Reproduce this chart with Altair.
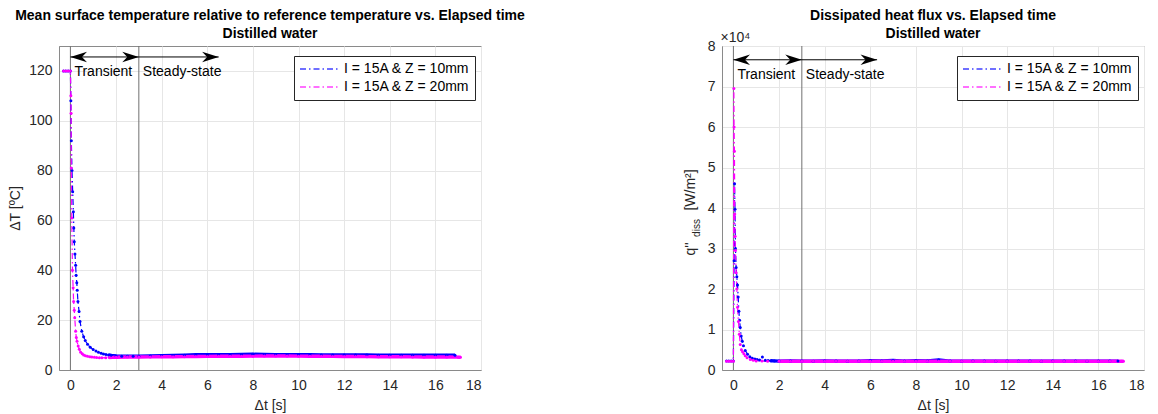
import altair as alt
import pandas as pd

SERIES = ["I = 15A & Z = 10mm", "I = 15A & Z = 20mm"]
COLORS = ["#0000ff", "#ff00ff"]

TITLE_T = ["Mean surface temperature relative to reference temperature vs. Elapsed time", "Distilled water"]
TITLE_Q = ["Dissipated heat flux vs. Elapsed time", "Distilled water"]

# --- Delta T, Z = 10 mm
t_T10 = [-0.3, -0.2, -0.1, 0.0,
         0.02, 0.04, 0.07, 0.10, 0.13, 0.15, 0.17, 0.20, 0.23, 0.25,
         0.28, 0.30, 0.33, 0.38, 0.42, 0.50, 0.58, 0.65, 0.75, 0.87,
         1.00, 1.12, 1.23, 1.35, 1.45, 1.56, 1.67, 1.8,
         2.0, 2.25, 2.5, 2.75, 3.0,
         3.5, 4.0, 4.5, 5.0, 5.5, 6.0, 6.5, 7.0, 7.5, 8.0, 8.5, 9.0, 9.5, 10.0,
         10.5, 11.0, 11.5, 12.0, 12.5, 13.0, 13.5, 14.0, 14.5, 15.0, 15.5, 16.0, 16.5,
         16.86]
dT_10 = [120, 120, 120, 120,
         108, 92, 80, 71.5, 63.5, 57, 51.5, 46.5, 42, 38,
         35, 32, 27.5, 23.5, 19.5, 15.5, 13.3, 11.8, 10.3, 9.1,
         8.2, 7.6, 7.1, 6.7, 6.4, 6.2, 6.0, 5.8,
         5.6, 5.5, 5.5, 5.5, 5.5,
         5.6, 5.7, 5.8, 5.9, 6.1, 6.1, 6.1, 6.1, 6.2, 6.3, 6.2, 6.1, 6.1, 6.1,
         6.1, 6.0, 6.0, 6.0, 6.0, 6.0, 5.9, 5.9, 5.9, 5.9, 5.9, 5.9, 5.9,
         5.9]

# --- Delta T, Z = 20 mm
t_T20 = [-0.3, -0.2, -0.1, 0.0,
         0.02, 0.03, 0.04, 0.06, 0.09, 0.12, 0.14, 0.17, 0.19, 0.23,
         0.26, 0.29, 0.34, 0.39, 0.45, 0.52, 0.58, 0.66, 0.75, 0.85,
         0.94, 1.05, 1.15, 1.27, 1.38, 1.55, 1.7, 1.85, 2.0, 2.5, 3.0,
         3.5, 4.0, 4.5, 5.0, 5.5, 6.0, 6.5, 7.0, 7.5, 8.0, 8.5, 9.0, 9.5, 10.0,
         10.5, 11.0, 11.5, 12.0, 12.5, 13.0, 13.5, 14.0, 14.5, 15.0, 15.5, 16.0, 16.5, 17.0,
         17.1]
dT_20 = [120, 120, 120, 120,
         110, 103, 81, 61, 40, 33, 27.5, 24, 21, 15.5,
         13, 11.5, 9.6, 8.3, 7.1, 6.5, 6.0, 5.7, 5.5, 5.3,
         5.2, 5.1, 5.0, 4.95, 4.9, 4.95, 5.0, 5.05, 5.1, 5.2, 5.2,
         5.25, 5.3, 5.3, 5.35, 5.4, 5.45, 5.5, 5.5, 5.5, 5.55, 5.6, 5.6, 5.6, 5.55,
         5.5, 5.5, 5.45, 5.4, 5.4, 5.35, 5.3, 5.3, 5.3, 5.25, 5.2, 5.2, 5.2, 5.15,
         5.1]

# --- q''diss, Z = 10 mm  [W/m^2]
t_q10 = [-0.3, -0.2, -0.1, 0.0,
         0.03, 0.05, 0.07, 0.09, 0.12, 0.15, 0.18, 0.21, 0.24, 0.27,
         0.30, 0.34, 0.39, 0.44, 0.52, 0.62, 0.72, 0.83, 0.94, 1.04,
         1.15, 1.27, 1.4, 1.52, 1.63, 1.8, 2.0,
         2.5, 3.0, 3.5, 4.0, 4.5, 5.0, 5.5, 6.0, 6.5, 7.0, 7.5, 8.0, 8.5, 9.0, 9.5,
         10.0, 10.5, 11.0, 11.5, 12.0, 12.5, 13.0, 13.5, 14.0, 14.5, 15.0, 15.5, 16.0, 16.5,
         16.86]
q_10 = [2200, 2200, 2200, 2200,
        27000, 46000, 39700, 30000, 25300, 23000, 21000, 18000, 14500, 12300,
        10500, 8400, 7100, 6000, 4800, 3900, 3300, 2900, 2700, 2600,
        2500, 3200, 2400, 2350, 2300, 2250, 2200,
        2250, 2200, 2150, 2250, 2200, 2150, 2200, 2300, 2250, 2350, 2200, 2300, 2250, 2450, 2200,
        2150, 2200, 2200, 2150, 2200, 2200, 2200, 2150, 2200, 2200, 2200, 2150, 2200, 2200,
        2200]

# --- q''diss, Z = 20 mm  [W/m^2]
t_q20 = [-0.3, -0.2, -0.1, 0.0,
         0.02, 0.03, 0.045, 0.06, 0.075, 0.09, 0.12, 0.15, 0.18, 0.22,
         0.26, 0.3, 0.35, 0.4, 0.46, 0.52, 0.6, 0.74, 0.87, 1.0,
         1.25, 1.5, 2.0,
         2.5, 3.0, 3.5, 4.0, 4.5, 5.0, 5.5, 6.0, 6.5, 7.0, 7.5, 8.0, 8.5, 9.0, 9.5,
         10.0, 10.5, 11.0, 11.5, 12.0, 12.5, 13.0, 13.5, 14.0, 14.5, 15.0, 15.5, 16.0, 16.5, 17.0,
         17.1]
q_20 = [2150, 2150, 2150, 2150,
        69500, 60000, 54000, 38500, 33000, 29500, 24000, 20000, 15500, 12000,
        8800, 6300, 5000, 4500, 4000, 3500, 3000, 2600, 2400, 2250,
        2200, 2150, 2150,
        2150, 2150, 2150, 2150, 2150, 2150, 2150, 2150, 2150, 2150, 2150, 2150, 2150, 2150, 2150,
        2150, 2150, 2150, 2150, 2150, 2150, 2150, 2150, 2150, 2150, 2150, 2150, 2150, 2150, 2150,
        2150]

X_DOMAIN = [-0.5, 18]
X_TICKS = [0, 2, 4, 6, 8, 10, 12, 14, 16, 18]
T_DOMAIN = [0, 130]
T_TICKS = [0, 20, 40, 60, 80, 100, 120]
Q_DOMAIN = [0, 80000]
Q_TICKS = [0, 10000, 20000, 30000, 40000, 50000, 60000, 70000, 80000]

PHASE_LINES = [0, 3]
PHASE_LABELS = ["Transient", "Steady-state"]
T_ARROW_Y = 125.6
T_LABEL_Y = 119.5
T_ARROW_END = 6.5
Q_ARROW_Y = 76600
Q_ARROW_END = 6.3
Q_LABEL_Y = 72800

FONT = "Liberation Sans"
ARROW_PATH = "M0,0 L-1,-0.32 L-0.7,0 L-1,0.32 Z"
TXT = 14


def series_df(t_a, v_a, t_b, v_b):
    assert len(t_a) == len(v_a) and len(t_b) == len(v_b)
    a = pd.DataFrame({"t": t_a, "v": v_a, "series": SERIES[0]})
    b = pd.DataFrame({"t": t_b, "v": v_b, "series": SERIES[1]})
    return pd.concat([a, b], ignore_index=True)


def panel(df, y_domain, y_axis, arrow_y, arrow_end, label_y):
    xs = alt.Scale(domain=X_DOMAIN, nice=False, zero=False)
    ys = alt.Scale(domain=y_domain, nice=False, zero=False)
    cs = alt.Scale(domain=SERIES, range=COLORS)
    x_enc = alt.X("t:Q", scale=xs, axis=alt.Axis(values=X_TICKS, title="Δt [s]"))
    y_enc = alt.Y("v:Q", scale=ys, axis=y_axis)

    base = alt.Chart(df)
    leg = alt.Legend(orient="none", legendX=235, legendY=10, title=None,
                     symbolType="stroke", symbolStrokeWidth=1.3, symbolDash=[6, 3, 1.5, 3],
                     symbolSize=1600, clipHeight=16, labelFontSize=TXT, labelColor="#000000",
                     labelFont=FONT, strokeColor="#262626", fillColor="white", padding=5,
                     rowPadding=2, labelOffset=3, symbolOpacity=0.75)
    line = base.mark_line(strokeWidth=1.2, strokeDash=[6, 3, 1.5, 3]).encode(
        x=x_enc, y=y_enc, color=alt.Color("series:N", scale=cs, legend=leg))
    thick = base.transform_filter("datum.t >= 1.6").mark_line(strokeWidth=3.4).encode(
        x=x_enc, y=y_enc, color=alt.Color("series:N", scale=cs, legend=None))
    pts = base.mark_point(filled=True, size=9, opacity=1).encode(
        x=x_enc, y=y_enc, color=alt.Color("series:N", scale=cs, legend=None))

    vdf = pd.DataFrame({"x": PHASE_LINES})
    vlines = alt.Chart(vdf).mark_rule(color="#707070", strokeWidth=1).encode(
        x=alt.X("x:Q", scale=xs))

    adf = pd.DataFrame({"x": [PHASE_LINES[0], PHASE_LINES[1]],
                        "x2": [PHASE_LINES[1], arrow_end],
                        "y": [arrow_y, arrow_y]})
    arrows = alt.Chart(adf).mark_rule(color="black", strokeWidth=1).encode(
        x=alt.X("x:Q", scale=xs), x2="x2:Q", y=alt.Y("y:Q", scale=ys))
    hdf = pd.DataFrame({"x": [PHASE_LINES[0], PHASE_LINES[1], arrow_end],
                        "y": [arrow_y] * 3, "ang": [180, 0, 0]})
    heads = alt.Chart(hdf).mark_point(shape=ARROW_PATH, filled=True, color="black",
                                      opacity=1, size=1100, strokeWidth=0).encode(
        x=alt.X("x:Q", scale=xs), y=alt.Y("y:Q", scale=ys),
        angle=alt.Angle("ang:Q", scale=None))

    ldf = pd.DataFrame({"x": [PHASE_LINES[0], PHASE_LINES[1]], "y": [label_y] * 2,
                        "label": PHASE_LABELS})
    labels = alt.Chart(ldf).mark_text(align="left", baseline="middle", dx=4, fontSize=TXT,
                                      font=FONT, color="#000000").encode(
        x=alt.X("x:Q", scale=xs), y=alt.Y("y:Q", scale=ys), text="label:N")

    return [vlines, line, thick, pts, arrows, heads, labels]


t_df = series_df(t_T10, dT_10, t_T20, dT_20)
q_df = series_df(t_q10, q_10, t_q20, q_20)

t_axis = alt.Axis(values=T_TICKS, title="ΔT [ºC]")
q_axis = alt.Axis(values=Q_TICKS, labelExpr="datum.value / 10000",
                  title="×10⁴", titleAngle=0, titleX=-2, titleY=-2,
                  titleAlign="left", titleBaseline="bottom", titleFontSize=14)

layers_t = panel(t_df, T_DOMAIN, t_axis, T_ARROW_Y, T_ARROW_END, T_LABEL_Y)
layers_q = panel(q_df, Q_DOMAIN, q_axis, Q_ARROW_Y, Q_ARROW_END, Q_LABEL_Y)

# y-axis title of the heat-flux panel with subscript / superscript
YT_PARTS = ["q''", "diss", "[W/m²]"]
one = pd.DataFrame({"k": [0]})
yt_q = alt.Chart(one).mark_text(
    text=YT_PARTS[0], angle=270, fontSize=TXT, font=FONT, color="#262626",
    align="center", baseline="middle").encode(x=alt.value(-31), y=alt.value(203))
yt_d = alt.Chart(one).mark_text(
    text=YT_PARTS[1], angle=270, fontSize=10, font=FONT, color="#262626",
    align="center", baseline="middle").encode(x=alt.value(-25), y=alt.value(182))
yt_u = alt.Chart(one).mark_text(
    text=YT_PARTS[2], angle=270, fontSize=TXT, font=FONT, color="#262626",
    align="center", baseline="middle").encode(x=alt.value(-31), y=alt.value(144))


def ttl(lines, off):
    return alt.TitleParams(text=lines, fontSize=14, fontWeight="bold", color="#000000",
                           font=FONT, anchor="middle", frame="group", offset=off, lineHeight=18)


left = alt.layer(*layers_t).properties(width=422, height=324, title=ttl(TITLE_T, 5))
right = alt.layer(*layers_q, yt_q, yt_d, yt_u).properties(width=422, height=324, title=ttl(TITLE_Q, -11))

chart = alt.hconcat(left, right, spacing=157).resolve_legend(color="independent").properties(
    padding={"left": 0, "top": 0, "right": 0, "bottom": 0}
).configure(font=FONT).configure_view(
    stroke="#8a8a8a", strokeWidth=1
).configure_axis(
    labelFontSize=TXT, titleFontSize=TXT, labelColor="#262626", titleColor="#262626",
    titleFontWeight="normal", labelFont=FONT, titleFont=FONT,
    domainColor="#8a8a8a", gridColor="#e6e6e6", ticks=False
).configure_axisX(
    labelPadding=8, titlePadding=6
).configure_axisY(
    labelPadding=7, titlePadding=6
)

chart.save("out.html", embed_options={"renderer": "svg", "actions": False})
